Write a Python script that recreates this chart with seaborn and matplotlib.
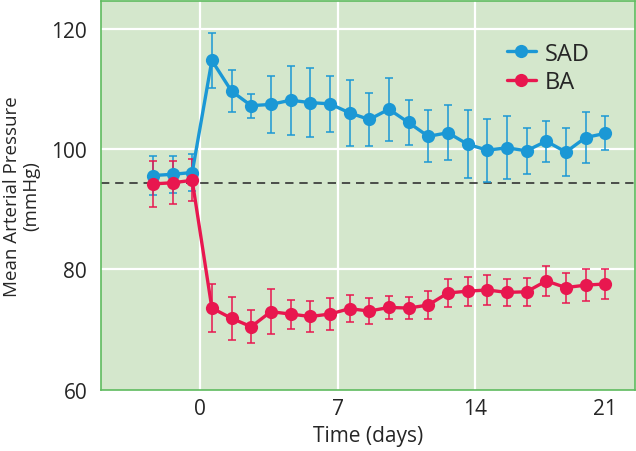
import pandas as pd
import matplotlib.pyplot as plt
import seaborn as sns

# days (points sit a little before each whole day)
days = [-2.4, -1.4, -0.4, 0.6, 1.6, 2.6, 3.6, 4.6, 5.6, 6.6, 7.6, 8.6,
        9.6, 10.6, 11.6, 12.6, 13.6, 14.6, 15.6, 16.6, 17.6, 18.6, 19.6, 20.6]

sad_mean = [95.6, 95.8, 96.1, 114.7, 109.6, 107.2, 107.4, 108.1, 107.7, 107.5, 106.0, 104.9,
            106.6, 104.4, 102.1, 102.7, 100.8, 99.8, 100.2, 99.7, 101.3, 99.5, 101.9, 102.6]
sad_err = [3.2, 3.1, 3.0, 4.5, 3.5, 2.0, 4.7, 5.7, 5.7, 4.7, 5.5, 4.4,
           5.2, 3.7, 4.3, 4.6, 5.6, 5.2, 5.2, 3.8, 3.4, 4.0, 4.3, 2.8]

ba_mean = [94.2, 94.4, 94.8, 73.6, 71.9, 70.5, 73.0, 72.6, 72.2, 72.6, 73.5, 73.1,
           73.7, 73.6, 74.1, 76.1, 76.4, 76.6, 76.2, 76.3, 78.1, 77.0, 77.4, 77.6]
ba_err = [3.8, 3.6, 3.5, 4.0, 3.6, 2.7, 3.7, 2.4, 2.5, 2.7, 2.2, 2.2,
          1.9, 1.8, 2.3, 2.3, 2.4, 2.5, 2.3, 2.3, 2.5, 2.5, 2.7, 2.5]

baseline = 94.3
x_ticks = [0, 7, 14, 20.6]
x_labels = ['0', '7', '14', '21']
y_ticks = [60, 80, 100, 120]

blue = '#1b98d5'
red = '#e8174f'

data = pd.DataFrame({
    'Time': days * 2,
    'MAP': sad_mean + ba_mean,
    'err': sad_err + ba_err,
    'Group': ['SAD'] * len(days) + ['BA'] * len(days),
})

sns.set_style('white')
plt.rcParams['font.family'] = ['Open Sans', 'DejaVu Sans']

fig = plt.figure(figsize=(6.36, 4.52), dpi=100)
ax = fig.add_axes([0.159, 0.135, 0.839, 0.861])
ax.set_facecolor('#d4e7cc')

# grid lines
for gx in [0, 7, 14]:
    ax.axvline(gx, color='white', lw=1.6, zorder=0)
for gy in [80, 100, 120]:
    ax.axhline(gy, color='white', lw=1.6, zorder=0)
ax.axhline(baseline, color='#333333', lw=1.2, ls=(0, (5, 3.5)), zorder=1)

palette = {'SAD': blue, 'BA': red}
for grp in ['SAD', 'BA']:
    sub = data[data['Group'] == grp]
    ax.errorbar(sub['Time'], sub['MAP'], yerr=sub['err'], fmt='none',
                ecolor=palette[grp], elinewidth=1.1, capsize=3.2, capthick=1.1, zorder=2)

sns.lineplot(data=data, x='Time', y='MAP', hue='Group', palette=palette,
             hue_order=['SAD', 'BA'], marker='o', markersize=9.5, markeredgewidth=0,
             linewidth=2.4, ax=ax, zorder=3)

ax.set_xlim(-5.03, 22.1)
ax.set_ylim(60, 124.6)
ax.set_xticks(x_ticks)
ax.set_xticklabels(x_labels)
ax.set_yticks(y_ticks)
ax.tick_params(axis='y', which='major', length=0, labelsize=15, pad=10)
ax.tick_params(axis='x', which='major', length=0, labelsize=15, pad=6)
ax.set_xticks([d for d in range(-4, 21) if d % 7 != 0], minor=True)
ax.set_yticks([70, 90, 110], minor=True)
ax.tick_params(axis='both', which='minor', direction='in', length=4, width=1.4, color='white')

for s in ax.spines.values():
    s.set_color('#5fbb5f')
    s.set_linewidth(1.2)

ax.set_xlabel('Time (days)', fontsize=15, labelpad=4)
ax.set_ylabel('Mean Arterial Pressure\n(mmHg)', fontsize=13.5, linespacing=1.05)
ax.yaxis.set_label_coords(-0.115, 0.5)

leg = ax.legend(loc='upper right', bbox_to_anchor=(0.955, 0.95), frameon=False,
                fontsize=17, handlelength=1.25, handletextpad=0.35, labelspacing=0.2)

plt.savefig('out.png', dpi=100)
